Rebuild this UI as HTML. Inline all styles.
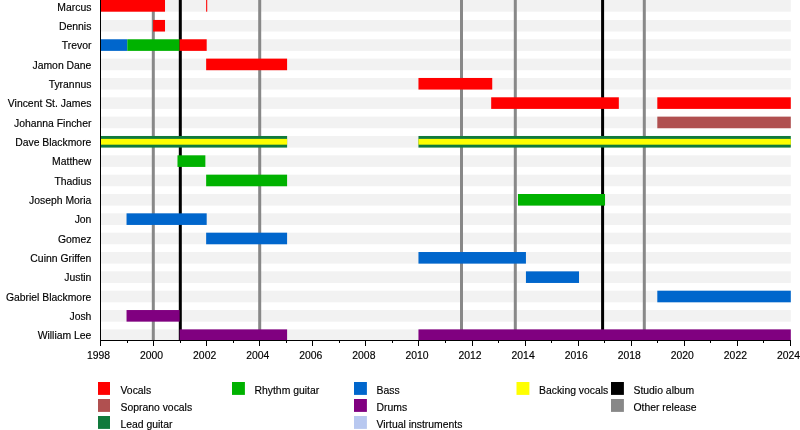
<!DOCTYPE html><html><head><meta charset="utf-8"><style>html,body{margin:0;padding:0;background:#fff;width:800px;height:430px;overflow:hidden}svg{display:block;will-change:transform}text{font-family:"Liberation Sans",sans-serif;font-size:10.4px;fill:#000;stroke:#000;stroke-width:0.15px}</style></head><body>
<svg width="800" height="430" viewBox="0 0 800 430">
<rect x="0" y="0" width="800" height="430" fill="#fff"/>
<rect x="100" y="0.00" width="690.8" height="11.70" fill="#f2f2f2"/>
<rect x="100" y="19.94" width="690.8" height="11.60" fill="#f2f2f2"/>
<rect x="100" y="39.28" width="690.8" height="11.60" fill="#f2f2f2"/>
<rect x="100" y="58.62" width="690.8" height="11.60" fill="#f2f2f2"/>
<rect x="100" y="77.96" width="690.8" height="11.60" fill="#f2f2f2"/>
<rect x="100" y="97.30" width="690.8" height="11.60" fill="#f2f2f2"/>
<rect x="100" y="116.64" width="690.8" height="11.60" fill="#f2f2f2"/>
<rect x="100" y="135.98" width="690.8" height="11.60" fill="#f2f2f2"/>
<rect x="100" y="155.32" width="690.8" height="11.60" fill="#f2f2f2"/>
<rect x="100" y="174.66" width="690.8" height="11.60" fill="#f2f2f2"/>
<rect x="100" y="194.00" width="690.8" height="11.60" fill="#f2f2f2"/>
<rect x="100" y="213.34" width="690.8" height="11.60" fill="#f2f2f2"/>
<rect x="100" y="232.68" width="690.8" height="11.60" fill="#f2f2f2"/>
<rect x="100" y="252.02" width="690.8" height="11.60" fill="#f2f2f2"/>
<rect x="100" y="271.36" width="690.8" height="11.60" fill="#f2f2f2"/>
<rect x="100" y="290.70" width="690.8" height="11.60" fill="#f2f2f2"/>
<rect x="100" y="310.04" width="690.8" height="11.60" fill="#f2f2f2"/>
<rect x="100" y="329.38" width="690.8" height="11.60" fill="#f2f2f2"/>
<rect x="151.80" y="0" width="3" height="340" fill="#888888"/>
<rect x="258.20" y="0" width="3" height="340" fill="#888888"/>
<rect x="460.00" y="0" width="3" height="340" fill="#888888"/>
<rect x="513.80" y="0" width="3" height="340" fill="#888888"/>
<rect x="642.80" y="0" width="3" height="340" fill="#888888"/>
<rect x="178.80" y="0" width="3" height="340" fill="#000000"/>
<rect x="601.10" y="0" width="3" height="340" fill="#000000"/>
<rect x="100.00" y="0.00" width="65.02" height="11.70" fill="#ff0000"/>
<rect x="206.15" y="0.00" width="1.06" height="11.70" fill="#ff0000"/>
<rect x="153.08" y="19.94" width="11.94" height="11.60" fill="#ff0000"/>
<rect x="100.00" y="39.28" width="27.33" height="11.60" fill="#0066cc"/>
<rect x="127.33" y="39.28" width="52.28" height="11.60" fill="#00b200"/>
<rect x="179.62" y="39.28" width="27.07" height="11.60" fill="#ff0000"/>
<rect x="206.15" y="58.62" width="80.94" height="11.60" fill="#ff0000"/>
<rect x="418.46" y="77.96" width="73.78" height="11.60" fill="#ff0000"/>
<rect x="491.18" y="97.30" width="127.65" height="11.60" fill="#ff0000"/>
<rect x="657.31" y="97.30" width="133.49" height="11.60" fill="#ff0000"/>
<rect x="657.31" y="116.64" width="133.49" height="11.60" fill="#b05050"/>
<rect x="177.49" y="155.32" width="27.87" height="11.60" fill="#00b200"/>
<rect x="206.15" y="174.66" width="80.94" height="11.60" fill="#00b200"/>
<rect x="517.98" y="194.00" width="87.05" height="11.60" fill="#00b200"/>
<rect x="126.54" y="213.34" width="80.15" height="11.60" fill="#0066cc"/>
<rect x="206.15" y="232.68" width="80.94" height="11.60" fill="#0066cc"/>
<rect x="418.46" y="252.02" width="107.48" height="11.60" fill="#0066cc"/>
<rect x="525.94" y="271.36" width="53.08" height="11.60" fill="#0066cc"/>
<rect x="657.31" y="290.70" width="133.49" height="11.60" fill="#0066cc"/>
<rect x="126.54" y="310.04" width="53.08" height="11.60" fill="#800080"/>
<rect x="179.62" y="329.38" width="107.48" height="11.60" fill="#800080"/>
<rect x="418.46" y="329.38" width="372.34" height="11.60" fill="#800080"/>
<rect x="100.00" y="135.98" width="187.10" height="11.6" fill="#107a3c"/>
<rect x="100.00" y="138.88" width="187.10" height="5.8" fill="#ffff00"/>
<rect x="418.46" y="135.98" width="372.34" height="11.6" fill="#107a3c"/>
<rect x="418.46" y="138.88" width="372.34" height="5.8" fill="#ffff00"/>
<text x="91.4" y="10.50" text-anchor="end">Marcus</text>
<text x="91.4" y="29.84" text-anchor="end">Dennis</text>
<text x="91.4" y="49.18" text-anchor="end">Trevor</text>
<text x="91.4" y="68.52" text-anchor="end">Jamon Dane</text>
<text x="91.4" y="87.86" text-anchor="end">Tyrannus</text>
<text x="91.4" y="107.20" text-anchor="end">Vincent St. James</text>
<text x="91.4" y="126.54" text-anchor="end">Johanna Fincher</text>
<text x="91.4" y="145.88" text-anchor="end">Dave Blackmore</text>
<text x="91.4" y="165.22" text-anchor="end">Matthew</text>
<text x="91.4" y="184.56" text-anchor="end">Thadius</text>
<text x="91.4" y="203.90" text-anchor="end">Joseph Moria</text>
<text x="91.4" y="223.24" text-anchor="end">Jon</text>
<text x="91.4" y="242.58" text-anchor="end">Gomez</text>
<text x="91.4" y="261.92" text-anchor="end">Cuinn Griffen</text>
<text x="91.4" y="281.26" text-anchor="end">Justin</text>
<text x="91.4" y="300.60" text-anchor="end">Gabriel Blackmore</text>
<text x="91.4" y="319.94" text-anchor="end">Josh</text>
<text x="91.4" y="339.28" text-anchor="end">William Lee</text>
<rect x="100" y="0" width="1" height="341" fill="#000"/>
<rect x="100" y="340" width="691" height="1" fill="#000"/>
<rect x="100" y="340" width="1" height="6" fill="#000"/>
<text x="98.50" y="358.5" text-anchor="middle">1998</text>
<rect x="127" y="340" width="1" height="3" fill="#000"/>
<rect x="153" y="340" width="1" height="6" fill="#000"/>
<text x="151.58" y="358.5" text-anchor="middle">2000</text>
<rect x="180" y="340" width="1" height="3" fill="#000"/>
<rect x="206" y="340" width="1" height="6" fill="#000"/>
<text x="204.65" y="358.5" text-anchor="middle">2002</text>
<rect x="233" y="340" width="1" height="3" fill="#000"/>
<rect x="259" y="340" width="1" height="6" fill="#000"/>
<text x="257.73" y="358.5" text-anchor="middle">2004</text>
<rect x="286" y="340" width="1" height="3" fill="#000"/>
<rect x="312" y="340" width="1" height="6" fill="#000"/>
<text x="310.81" y="358.5" text-anchor="middle">2006</text>
<rect x="339" y="340" width="1" height="3" fill="#000"/>
<rect x="365" y="340" width="1" height="6" fill="#000"/>
<text x="363.88" y="358.5" text-anchor="middle">2008</text>
<rect x="392" y="340" width="1" height="3" fill="#000"/>
<rect x="418" y="340" width="1" height="6" fill="#000"/>
<text x="416.96" y="358.5" text-anchor="middle">2010</text>
<rect x="445" y="340" width="1" height="3" fill="#000"/>
<rect x="472" y="340" width="1" height="6" fill="#000"/>
<text x="470.04" y="358.5" text-anchor="middle">2012</text>
<rect x="498" y="340" width="1" height="3" fill="#000"/>
<rect x="525" y="340" width="1" height="6" fill="#000"/>
<text x="523.12" y="358.5" text-anchor="middle">2014</text>
<rect x="551" y="340" width="1" height="3" fill="#000"/>
<rect x="578" y="340" width="1" height="6" fill="#000"/>
<text x="576.19" y="358.5" text-anchor="middle">2016</text>
<rect x="604" y="340" width="1" height="3" fill="#000"/>
<rect x="631" y="340" width="1" height="6" fill="#000"/>
<text x="629.27" y="358.5" text-anchor="middle">2018</text>
<rect x="657" y="340" width="1" height="3" fill="#000"/>
<rect x="684" y="340" width="1" height="6" fill="#000"/>
<text x="682.35" y="358.5" text-anchor="middle">2020</text>
<rect x="710" y="340" width="1" height="3" fill="#000"/>
<rect x="737" y="340" width="1" height="6" fill="#000"/>
<text x="735.42" y="358.5" text-anchor="middle">2022</text>
<rect x="763" y="340" width="1" height="3" fill="#000"/>
<rect x="790" y="340" width="1" height="6" fill="#000"/>
<text x="788.50" y="358.5" text-anchor="middle">2024</text>
<rect x="98" y="382" width="12" height="12.9" fill="#ff0000"/>
<text x="120.5" y="393.80">Vocals</text>
<rect x="98" y="399" width="12" height="12.9" fill="#b05050"/>
<text x="120.5" y="410.80">Soprano vocals</text>
<rect x="98" y="416" width="12" height="12.9" fill="#107a3c"/>
<text x="120.5" y="427.80">Lead guitar</text>
<rect x="232" y="382" width="12.9" height="12.9" fill="#00b200"/>
<text x="254.5" y="393.80">Rhythm guitar</text>
<rect x="354" y="382" width="12.9" height="12.9" fill="#0066cc"/>
<text x="376.5" y="393.80">Bass</text>
<rect x="354" y="399" width="12.9" height="12.9" fill="#800080"/>
<text x="376.5" y="410.80">Drums</text>
<rect x="354" y="416" width="12.9" height="12.9" fill="#b8c8f0"/>
<text x="376.5" y="427.80">Virtual instruments</text>
<rect x="516.5" y="382" width="12.9" height="12.9" fill="#ffff00"/>
<text x="539.0" y="393.80">Backing vocals</text>
<rect x="611" y="382" width="12.9" height="12.9" fill="#000000"/>
<text x="633.5" y="393.80">Studio album</text>
<rect x="611" y="399" width="12.9" height="12.9" fill="#888888"/>
<text x="633.5" y="410.80">Other release</text>
</svg></body></html>
